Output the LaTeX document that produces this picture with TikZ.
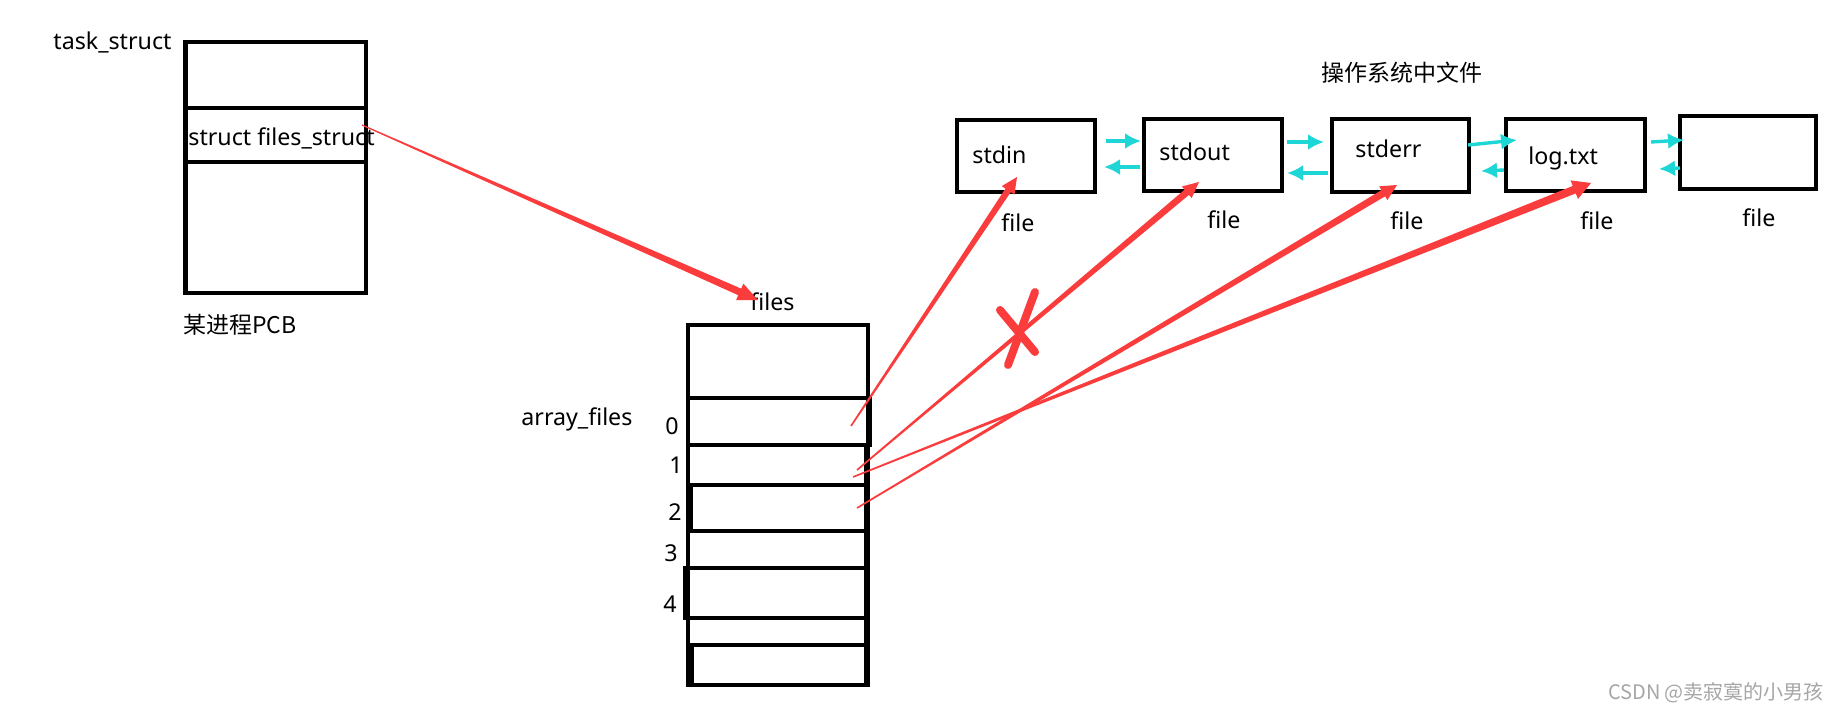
\documentclass[tikz,border=0pt]{standalone}
\usepackage{fontspec}
\setmainfont{Noto Sans}
\newfontfamily\cjk{Noto Sans CJK SC}
\usetikzlibrary{calc,fit,arrows.meta}
\definecolor{redc}{RGB}{250,60,60}
\definecolor{cyanc}{RGB}{30,214,214}
% tapered red arrow: start, tip, start half-width, shaft half-width at head, head length, head half-width
\newcommand{\taperarrow}[6]{%
  \path ($(#2)!#5!(#1)$) coordinate (hb);
  \fill[redc] ($(#1)!#3!90:(#2)$) -- ($(hb)!#4!90:(#2)$) -- ($(hb)!#6!90:(#2)$) -- (#2)
     -- ($(hb)!#6!-90:(#2)$) -- ($(hb)!#4!-90:(#2)$) -- ($(#1)!#3!-90:(#2)$) -- cycle;
}
\begin{document}
\begin{tikzpicture}[x=0.5pt,y=-0.5pt,
  cell/.style={draw=black, line width=2.3pt, inner sep=0pt},
  txt/.style={inner sep=0pt, anchor=base west, font=\fontsize{11.6}{14}\selectfont},
  ctxt/.style={inner sep=0pt, anchor=base west, font=\cjk\fontsize{11.5}{14}\selectfont},
  cyanarrow/.style={draw=cyanc, line width=1.7pt, -{Latex[length=8pt,width=8pt]}},
  xstroke/.style={draw=redc, line width=4pt, line cap=round}
]
\useasboundingbox[fill=white] (0,0) rectangle (1837,717);

% ---- PCB ----
\node[txt] (tasklabel) at (53,50) {task\_struct};
\node[cell, fit={(185.5,42) (366,293)}] (pcb) {};
\node[cell, fit={(185,108) (366,162)}] (fsrow) {};
\node[txt] (fstext) at (188,145.5) {struct files\_struct};
\node[ctxt] (pcblabel) at (183,333) {某进程PCB};

% ---- files array ----
\node[txt] (fileslabel) at (750,310) {files};
\node[txt] (arrlabel) at (521,425) {array\_files};
\node[cell, fit={(688,325) (868,685)}] (arr) {};
\node[cell, fit={(688,325) (868,398)}] (rtop) {};
\node[cell, fit={(688,398) (870,445)}] (r0) {};
\node[cell, fit={(688,445) (866,485)}] (r1) {};
\node[cell, fit={(691,485) (866,531)}] (r2) {};
\node[cell, fit={(688,531) (866,568)}] (r3) {};
\node[cell, fit={(685,568) (866,618)}] (r4) {};
\node[cell, fit={(688,618) (866,645)}] (r5) {};
\node[cell, fit={(692,645) (866,685)}] (r6) {};
\node[txt] (i0) at (665,434) {0};
\node[txt] (i1) at (669,473) {1};
\node[txt] (i2) at (668,520) {2};
\node[txt] (i3) at (664,561) {3};
\node[txt] (i4) at (663,612) {4};

% ---- OS files ----
\node[inner sep=0pt, font=\cjk\fontsize{11.5}{14}\selectfont] (ostitle) at (1402,73) {操作系统中文件};
\node[cell, fit={(957,120) (1095,192)}] (fin) {};
\node[cell, fit={(1144,119) (1282,191)}] (fout) {};
\node[cell, fit={(1332,119) (1469,192)}] (ferr) {};
\node[cell, fit={(1506,119) (1645,191)}] (flog) {};
\node[cell, fit={(1680,116) (1816,189)}] (fnext) {};
\node[txt] (tin) at (972,163) {stdin};
\node[txt] (tout) at (1159,161) {stdout};
\node[txt] (terr) at (1355,157) {stderr};
\node[txt] (tlog) at (1528,164) {log.txt};
\node[txt] (lin) at (1001,231) {file};
\node[txt] (lout) at (1207,228) {file};
\node[txt] (lerr) at (1390,229) {file};
\node[txt] (llog) at (1580,229) {file};
\node[txt] (lnext) at (1742,227) {file};

% ---- cyan links ----
\coordinate (a1s) at (1106,141); \coordinate (a1e) at (1141,141);
\coordinate (a2s) at (1140,167); \coordinate (a2e) at (1104,167);
\coordinate (a3s) at (1287,142); \coordinate (a3e) at (1324,142);
\coordinate (a4s) at (1328,173); \coordinate (a4e) at (1287,173);
\coordinate (a5s) at (1468,145); \coordinate (a5e) at (1517,140);
\coordinate (a6s) at (1504,170); \coordinate (a6e) at (1481,171);
\coordinate (a7s) at (1651,142); \coordinate (a7e) at (1684,140);
\coordinate (a8s) at (1680,168); \coordinate (a8e) at (1659,169);
\draw[cyanarrow] (a1s) -- (a1e);
\draw[cyanarrow] (a2s) -- (a2e);
\draw[cyanarrow] (a3s) -- (a3e);
\draw[cyanarrow] (a4s) -- (a4e);
\draw[cyanarrow] (a5s) -- (a5e);
\draw[cyanarrow] (a6s) -- (a6e);
\draw[cyanarrow] (a7s) -- (a7e);
\draw[cyanarrow] (a8s) -- (a8e);

% ---- red pointers ----
\coordinate (pfs) at (362,125);  \coordinate (tfiles) at (758,300);
\coordinate (p0) at (851,426);   \coordinate (tin0) at (1017,177);
\coordinate (p1a) at (857,470);  \coordinate (tout1) at (1199,182);
\coordinate (p1b) at (853,477);  \coordinate (tlog1) at (1591,183);
\coordinate (p2) at (857,508);   \coordinate (terr2) at (1397,185);
\taperarrow{pfs}{tfiles}{0.3pt}{1.8pt}{10pt}{4.5pt}
\taperarrow{p0}{tin0}{0.4pt}{1.6pt}{8pt}{3.8pt}
\taperarrow{p1a}{tout1}{0.4pt}{1.7pt}{8pt}{3.8pt}
\taperarrow{p1b}{tlog1}{0.4pt}{2pt}{9pt}{5pt}
\taperarrow{p2}{terr2}{0.4pt}{1.8pt}{8pt}{4pt}

% ---- cross mark ----
\coordinate (x1a) at (1035,292); \coordinate (x1b) at (1008,365);
\coordinate (x2a) at (1000,310); \coordinate (x2b) at (1035,352);
\draw[xstroke] (x1a) -- (x1b);
\draw[xstroke] (x2a) -- (x2b);

% ---- watermark ----
\node[inner sep=0pt, text=gray!70, font=\cjk\fontsize{10}{12}\selectfont] (wm) at (1716,693) {CSDN @卖寂寞的小男孩};
\end{tikzpicture}
\end{document}
